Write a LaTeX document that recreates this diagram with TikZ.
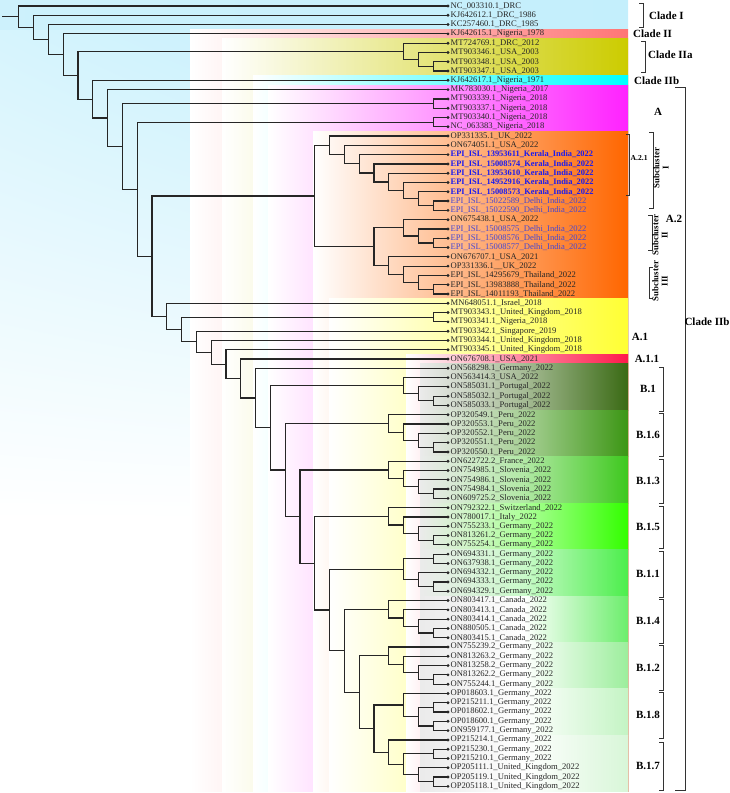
\documentclass[tikz,border=0pt]{standalone}
\usepackage{fontspec}
\setmainfont{Liberation Serif}
\usetikzlibrary{calc,shadings}
\definecolor{phyCladeI}{HTML}{C4EFFC}
\definecolor{phyCladeII}{HTML}{FF7575}
\definecolor{phyCladeIIa}{HTML}{CCCC00}
\definecolor{phyCladeIIb}{HTML}{00FFFF}
\definecolor{phyA}{HTML}{FF22FF}
\definecolor{phyAtwo}{HTML}{FF6600}
\definecolor{phyAone}{HTML}{FFFF33}
\definecolor{phyAoneone}{HTML}{FF1A4B}
\definecolor{phyBa}{HTML}{3A6A14}
\definecolor{phyBb}{HTML}{3C9614}
\definecolor{phyBc}{HTML}{3EC81E}
\definecolor{phyBd}{HTML}{33FF00}
\definecolor{phyBe}{HTML}{4CEE4C}
\definecolor{phyBf}{HTML}{6CEE6C}
\definecolor{phyBg}{HTML}{9CEE9C}
\definecolor{phyBh}{HTML}{C4F4C4}
\definecolor{phyBi}{HTML}{D8F6D8}
\definecolor{phyKerala}{HTML}{1A1AF0}
\definecolor{phyDelhi}{HTML}{4646D2}

\begin{document}
\begin{tikzpicture}[
    x=1pt, y=-1pt,
    branch/.style={line width=1.2pt, black!85},
    leaflbl/.style={anchor=west, inner sep=0pt, xshift=2.5pt, font=\fontsize{8.6}{9}\selectfont, text=black!85},
    kerala/.style={leaflbl, font=\fontsize{8.4}{9}\selectfont\bfseries, text=phyKerala},
    delhi/.style={leaflbl, text=phyDelhi},
    cladelbl/.style={font=\fontsize{11}{12}\selectfont\bfseries, inner sep=0pt},
    smalllbl/.style={font=\fontsize{7.6}{8}\selectfont\bfseries, inner sep=0pt},
    sublbl/.style={font=\fontsize{8.8}{9.2}\selectfont\bfseries, inner sep=0pt, align=center, rotate=90},
    brk/.style={line width=0.9pt, black!80},
  ]
  \useasboundingbox (0,0) rectangle (729,793);

  % Clade I shade over the root and the top rows
  \shade[upper left=phyCladeI!70, upper right=phyCladeI!85, lower left=white, lower right=white] (0,29.3) rectangle (190,520);
  \shade[left color=phyCladeI!85, right color=phyCladeI] (0,0) rectangle (628,29.3);

  % Clade highlights, each runs to the foot of the tree
  \shade[left color=white, right color=phyCladeII] (190,29.3) rectangle (628,791);
  \shade[left color=white, right color=phyCladeIIa] (222,38.5) rectangle (628,791);
  \shade[left color=white, right color=phyCladeIIb] (253,75.7) rectangle (628,791);
  \shade[left color=white, right color=phyA] (268,85) rectangle (628,791);
  \shade[left color=white, right color=phyAtwo] (313,131.4) rectangle (628,791);
  \shade[left color=white, right color=phyAone] (329,298.6) rectangle (628,791);
  \shade[left color=white, right color=phyAoneone] (406,354.4) rectangle (628,791);

  % Lineage B bands
  \foreach \ya/\yb/\col/\mid in {363.7/410/phyBa/phyBa!45, 410/456.5/phyBb/phyBb!45,
      456.5/503/phyBc/phyBc!40, 503/549.5/phyBd/phyBd!40, 549.5/596/phyBe/phyBe!30,
      596/642.4/phyBf/white, 642.4/688.9/phyBg/white, 688.9/735.3/phyBh/white,
      735.3/791/phyBi/white}
    \shade[left color=black!8, right color=\col, middle color=\mid] (420,\ya) rectangle (628,\yb);

  % Leaves
  \foreach \i/\txt/\st in {
      1/NC\_003310.1\_DRC/leaflbl, 2/KJ642612.1\_DRC\_1986/leaflbl,
      3/KC257460.1\_DRC\_1985/leaflbl, 4/KJ642615.1\_Nigeria\_1978/leaflbl,
      5/MT724769.1\_DRC\_2012/leaflbl, 6/MT903346.1\_USA\_2003/leaflbl,
      7/MT903348.1\_USA\_2003/leaflbl, 8/MT903347.1\_USA\_2003/leaflbl,
      9/KJ642617.1\_Nigeria\_1971/leaflbl, 10/MK783030.1\_Nigeria\_2017/leaflbl,
      11/MT903339.1\_Nigeria\_2018/leaflbl, 12/MT903337.1\_Nigeria\_2018/leaflbl,
      13/MT903340.1\_Nigeria\_2018/leaflbl, 14/NC\_063383\_Nigeria\_2018/leaflbl,
      15/OP331335.1\_UK\_2022/leaflbl, 16/ON674051.1\_USA\_2022/leaflbl,
      17/EPI\_ISL\_13953611\_Kerala\_India\_2022/kerala,
      18/EPI\_ISL\_15008574\_Kerala\_India\_2022/kerala,
      19/EPI\_ISL\_13953610\_Kerala\_India\_2022/kerala,
      20/EPI\_ISL\_14952916\_Kerala\_India\_2022/kerala,
      21/EPI\_ISL\_15008573\_Kerala\_India\_2022/kerala,
      22/EPI\_ISL\_15022589\_Delhi\_India\_2022/delhi,
      23/EPI\_ISL\_15022590\_Delhi\_India\_2022/delhi,
      24/ON675438.1\_USA\_2022/leaflbl,
      25/EPI\_ISL\_15008575\_Delhi\_India\_2022/delhi,
      26/EPI\_ISL\_15008576\_Delhi\_India\_2022/delhi,
      27/EPI\_ISL\_15008577\_Delhi\_India\_2022/delhi,
      28/ON676707.1\_USA\_2021/leaflbl, 29/OP331336.1\_\_UK\_2022/leaflbl,
      30/EPI\_ISL\_14295679\_Thailand\_2022/leaflbl,
      31/EPI\_ISL\_13983888\_Thailand\_2022/leaflbl,
      32/EPI\_ISL\_14011193\_Thailand\_2022/leaflbl,
      33/MN648051.1\_Israel\_2018/leaflbl, 34/MT903343.1\_United\_Kingdom\_2018/leaflbl,
      35/MT903341.1\_Nigeria\_2018/leaflbl, 36/MT903342.1\_Singapore\_2019/leaflbl,
      37/MT903344.1\_United\_Kingdom\_2018/leaflbl, 38/MT903345.1\_United\_Kingdom\_2018/leaflbl,
      39/ON676708.1\_USA\_2021/leaflbl, 40/ON568298.1\_Germany\_2022/leaflbl,
      41/ON563414.3\_USA\_2022/leaflbl, 42/ON585031.1\_Portugal\_2022/leaflbl,
      43/ON585032.1\_Portugal\_2022/leaflbl, 44/ON585033.1\_Portugal\_2022/leaflbl,
      45/OP320549.1\_Peru\_2022/leaflbl, 46/OP320553.1\_Peru\_2022/leaflbl,
      47/OP320552.1\_Peru\_2022/leaflbl, 48/OP320551.1\_Peru\_2022/leaflbl,
      49/OP320550.1\_Peru\_2022/leaflbl, 50/ON622722.2\_France\_2022/leaflbl,
      51/ON754985.1\_Slovenia\_2022/leaflbl, 52/ON754986.1\_Slovenia\_2022/leaflbl,
      53/ON754984.1\_Slovenia\_2022/leaflbl, 54/ON609725.2\_Slovenia\_2022/leaflbl,
      55/ON792322.1\_Switzerland\_2022/leaflbl, 56/ON780017.1\_Italy\_2022/leaflbl,
      57/ON755233.1\_Germany\_2022/leaflbl, 58/ON813261.2\_Germany\_2022/leaflbl,
      59/ON755254.1\_Germany\_2022/leaflbl, 60/ON694331.1\_Germany\_2022/leaflbl,
      61/ON637938.1\_Germany\_2022/leaflbl, 62/ON694332.1\_Germany\_2022/leaflbl,
      63/ON694333.1\_Germany\_2022/leaflbl, 64/ON694329.1\_Germany\_2022/leaflbl,
      65/ON803417.1\_Canada\_2022/leaflbl, 66/ON803413.1\_Canada\_2022/leaflbl,
      67/ON803414.1\_Canada\_2022/leaflbl, 68/ON880505.1\_Canada\_2022/leaflbl,
      69/ON803415.1\_Canada\_2022/leaflbl, 70/ON755239.2\_Germany\_2022/leaflbl,
      71/ON813263.2\_Germany\_2022/leaflbl, 72/ON813258.2\_Germany\_2022/leaflbl,
      73/ON813262.2\_Germany\_2022/leaflbl, 74/ON755244.1\_Germany\_2022/leaflbl,
      75/OP018603.1\_Germany\_2022/leaflbl, 76/OP215211.1\_Germany\_2022/leaflbl,
      77/OP018602.1\_Germany\_2022/leaflbl, 78/OP018600.1\_Germany\_2022/leaflbl,
      79/ON959177.1\_Germany\_2022/leaflbl, 80/OP215214.1\_Germany\_2022/leaflbl,
      81/OP215230.1\_Germany\_2022/leaflbl, 82/OP215210.1\_Germany\_2022/leaflbl,
      83/OP205111.1\_United\_Kingdom\_2022/leaflbl,
      84/OP205119.1\_United\_Kingdom\_2022/leaflbl,
      85/OP205118.1\_United\_Kingdom\_2022/leaflbl}
  {
    \coordinate (l\i) at (448,{6+(\i-1)*9.29});
    \node[\st] (t\i) at (l\i) {\txt};
  }

  % Internal nodes: name / height / two children (x = 448 - 14.8*height)
  \foreach \nd/\hh/\ca/\cb in {
      iia1/1/l7/l8, iia2/2/l6/iia1, iia/3/l5/iia2,
      a1/1/l11/l12, a2/1/l13/l14,
      t8/1/l22/l23, t7/2/l21/t8, t6/3/l20/t7, t5/4/l19/t6,
      t4/5/l18/t5, t3/6/l17/t4, t2/7/l16/t3, t1/8/l15/t2,
      u1/1/l26/l27, u2/2/l25/u1, u3/3/l24/u2,
      v1/1/l31/l32, v2/2/l30/v1, v3/3/l29/v2, v4/4/l28/v3,
      w/5/u3/v4, atwo/9/t1/w,
      c1/1/l34/l35,
      b1a/1/l43/l44, b1b/2/l42/b1a, b1/3/l41/b1b,
      b6a/1/l48/l49, b6b/2/l47/b6a, b6c/3/l46/b6b, b6/4/l45/b6c,
      b3a/1/l53/l54, b3b/2/l52/b3a, b3c/3/l51/b3b, b3/4/l50/b3c,
      b5a/1/l58/l59, b5b/2/l57/b5a, b5c/3/l56/b5b, b5/4/l55/b5c,
      b11a/1/l60/l61, b11b/1/l63/l64, b11c/2/l62/b11b, b11/3/b11a/b11c,
      b4a/1/l68/l69, b4b/2/l67/b4a, b4c/3/l66/b4b, b4/4/l65/b4c,
      b2a/1/l73/l74, b2b/2/l72/b2a, b2c/3/l71/b2b, b2/4/l70/b2c,
      b8a/1/l76/l77, b8b/1/l78/l79, b8c/2/b8a/b8b, b8/3/l75/b8c,
      b7a/1/l81/l82, b7b/1/l84/l85, b7c/2/l83/b7b, b7d/3/b7a/b7c, b7/4/l80/b7d,
      n5/5/b8/b7, n6/6/b2/n5, n7/7/b4/n6, n8/8/b11/n7, n9/9/b5/n8,
      n10/10/b3/n9, n11/11/b6/n10, n12/12/b1/n11, n13/13/l40/n12,
      n14/14/l39/n13, n15/15/l38/n14, n16/16/l37/n15, n17/17/l36/n16,
      n18/18/c1/n17, n19/19/l33/n18, n20/20/atwo/n19, n21/21/a2/n20,
      n22/22/a1/n21, n23/23/l10/n22, n24/24/l9/n23, n25/25/iia/n24,
      n26/26/l4/n25, n27/27/l3/n26, n28/28/l2/n27, root/29/l1/n28}
  {
    \path let \p1=(\ca), \p2=(\cb) in ({(448-14.8*\hh)*1pt},{0.5*(\y1+\y2)}) coordinate (\nd);
    \draw[branch] (\ca) -| (\nd) |- (\cb);
  }
  \path let \p1=(root) in (2pt,\y1) coordinate (stub);
  \draw[branch] (stub) -- (root);

  % Tip dots
  \foreach \i in {1,...,85}
    \fill[black!85] (l\i) circle (1.6);

  % Clade brackets and names
  \draw[brk] (639,3) -- (643,3) -- (643,27) -- (639,27);
  \node[cladelbl, anchor=west] (cI) at (649,16) {Clade I};
  \node[cladelbl, anchor=west] (cII) at (633,33.8) {Clade II};
  \draw[brk] (641,41) -- (645,41) -- (645,72) -- (641,72);
  \node[cladelbl, anchor=west] (cIIa) at (648,55) {Clade IIa};
  \node[cladelbl, anchor=west] (cIIb) at (634,80.5) {Clade IIb};
  \draw[brk] (675,87) -- (685,87) -- (685,790) -- (675,790);
  \node[cladelbl] (cIIbbig) at (707,322) {Clade IIb};

  % Lineage A
  \node[cladelbl] (linA) at (658,112) {A};
  \draw[brk] (626,134) -- (629,134) -- (629,195) -- (626,195);
  \node[smalllbl, anchor=west] (aa21) at (630.5,158) {A.2.1};
  \draw[brk] (649,132) -- (653,132) -- (653,208) -- (649,208);
  \node[sublbl] (subI) at (661,168) {Subcluster\\I};
  \draw[brk] (648,215) -- (652,215) -- (652,250) -- (648,250);
  \node[sublbl] (subII) at (660,235) {Subcluster\\II};
  \node[cladelbl] (aa2) at (674,219) {A.2};
  \draw[brk] (653,267) -- (649,267) -- (649,298) -- (653,298);
  \node[sublbl] (subIII) at (660,281) {Subcluster\\III};
  \node[cladelbl] (aa1) at (640,337) {A.1};
  \node[cladelbl] (aa11) at (647,358.5) {A.1.1};

  % Lineage B
  \foreach \ya/\yb/\txt/\nm in {367/411/B.1/bA, 413/456/B.1.6/bB, 459/503/B.1.3/bC,
      506/548/B.1.5/bD, 551/597/B.1.1/bE, 599/643/B.1.4/bF, 645/690/B.1.2/bG,
      692/738/B.1.8/bH, 742/790/B.1.7/bI}
  {
    \draw[brk] (659,\ya) -- (663,\ya) -- (663,\yb) -- (659,\yb);
    \node[cladelbl] (\nm) at (648,{0.5*(\ya+\yb)}) {\txt};
  }
\end{tikzpicture}
\end{document}
